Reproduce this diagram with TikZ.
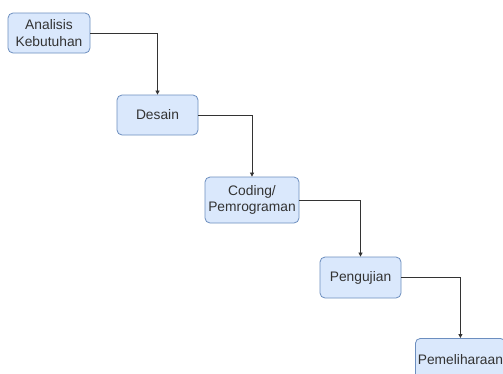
\documentclass[tikz,border=0pt]{standalone}
\usepackage{fontspec}
\setmainfont{Liberation Sans}
\usetikzlibrary{arrows.meta}
\definecolor{boxfill}{HTML}{DAE8FC}
\definecolor{boxline}{HTML}{6C8EBF}
\definecolor{edgecol}{HTML}{333333}
\begin{document}
\begin{tikzpicture}[x=1pt,y=-1pt,
  stage/.style={draw=boxline,fill=boxfill,rounded corners=5pt,line width=0.8pt,
    align=center,inner sep=0pt,font=\fontsize{13.8}{16.5}\selectfont,text=black!80},
  flow/.style={draw=edgecol,line width=0.75pt,-{Triangle[length=4pt,width=4pt]}}]
\useasboundingbox (0,0) rectangle (503,373);
\clip (0,0) rectangle (503,373);
\fill[white] (0,0) rectangle (503,373);
\node[stage,minimum width=82pt,minimum height=40pt] (a) at (49,33) {Analisis\\Kebutuhan};
\node[stage,minimum width=81pt,minimum height=40pt] (b) at (157.5,115) {Desain};
\node[stage,minimum width=94pt,minimum height=46pt] (c) at (252,200) {Coding/\\Pemrograman};
\node[stage,minimum width=81pt,minimum height=41pt] (d) at (360.5,277.5) {Pengujian};
\node[stage,minimum width=90pt,minimum height=42pt,anchor=north west] (e) at (415,338) {Pemeliharaan};
\draw[flow] (a.east) -| (b.north);
\draw[flow] (b.east) -| (c.north);
\draw[flow] (c.east) -| (d.north);
\draw[flow] (d.east) -| (e.north);
\end{tikzpicture}
\end{document}
